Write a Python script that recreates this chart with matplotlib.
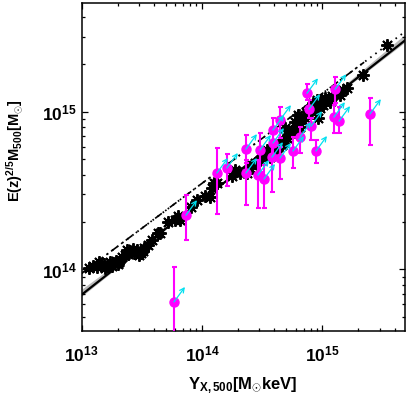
import numpy as np
import matplotlib
matplotlib.use("Agg")
import matplotlib.pyplot as plt
from matplotlib.ticker import LogLocator, FuncFormatter, NullFormatter

plt.rcParams['mathtext.fontset'] = 'custom'
plt.rcParams['mathtext.bf'] = 'Liberation Sans:bold'
plt.rcParams['mathtext.rm'] = 'Liberation Sans'
plt.rcParams['mathtext.it'] = 'Liberation Sans:italic'
plt.rcParams['font.family'] = ['Liberation Sans', 'DejaVu Sans']

# ---- data: simulated clusters (black asterisks) ----
star_yx = [1.15e13, 1.24e13, 1.34e13, 1.45e13, 1.53e13, 1.62e13, 1.72e13, 1.82e13, 1.93e13, 2.04e13,
           2.16e13, 2.29e13, 2.43e13, 2.57e13, 2.72e13, 2.88e13, 3.11e13, 3.30e13, 3.56e13, 3.84e13,
           4.31e13, 4.48e13, 5.22e13, 5.97e13, 6.31e13, 6.56e13, 8.10e13, 9.08e13, 1.06e14, 1.17e14,
           1.21e14, 1.26e14, 1.33e14, 1.78e14, 2.07e14, 2.37e14, 2.51e14, 2.76e14, 3.03e14, 3.22e14,
           3.47e14, 3.67e14, 3.82e14, 4.20e14, 4.62e14, 4.71e14, 5.09e14, 5.39e14, 5.71e14, 6.04e14,
           6.53e14, 6.78e14, 7.18e14, 7.91e14, 8.21e14, 8.37e14, 9.04e14, 9.57e14, 1.01e15, 1.09e15,
           1.16e15, 1.32e15, 1.49e15, 1.60e15, 2.18e15, 3.45e15,
           1.39e13, 1.56e13, 1.79e13, 2.00e13, 2.38e13, 2.67e13, 2.99e13, 3.23e13,
           4.90e14, 5.93e14, 6.28e14, 7.32e14, 8.69e14, 1.05e15, 1.20e15, 1.40e15, 5.19e14, 9.21e14,
           1.88e14, 2.61e14]
star_m = [1.02e14, 1.05e14, 1.04e14, 1.07e14, 1.08e14, 1.05e14, 1.12e14, 1.10e14, 1.13e14, 1.12e14,
          1.20e14, 1.24e14, 1.25e14, 1.29e14, 1.27e14, 1.33e14, 1.27e14, 1.37e14, 1.43e14, 1.54e14,
          1.70e14, 1.70e14, 2.00e14, 2.06e14, 2.18e14, 2.06e14, 2.49e14, 2.76e14, 2.92e14, 2.88e14,
          3.28e14, 3.53e14, 3.53e14, 3.91e14, 4.09e14, 4.09e14, 4.40e14, 4.73e14, 4.94e14, 5.32e14,
          5.72e14, 5.16e14, 5.72e14, 5.89e14, 6.15e14, 6.34e14, 6.81e14, 7.33e14, 7.66e14, 7.43e14,
          8.00e14, 8.86e14, 9.12e14, 1.03e15, 1.03e15, 1.14e15, 1.19e15, 1.05e15, 1.10e15, 1.19e15,
          1.15e15, 1.31e15, 1.37e15, 1.41e15, 1.71e15, 2.65e15,
          1.12e14, 1.02e14, 1.05e14, 1.08e14, 1.33e14, 1.35e14, 1.24e14, 1.31e14,
          7.88e14, 8.61e14, 9.53e14, 9.96e14, 1.09e15, 1.22e15, 1.26e15, 1.28e15, 7.12e14, 9.12e14,
          4.27e14, 4.60e14]

# ---- data: observed clusters (magenta, with error bars) ----
obs_yx = [5.85e13, 7.36e13, 1.33e14, 1.61e14, 2.32e14, 2.32e14, 2.92e14, 3.28e14, 3.03e14, 3.82e14,
          3.89e14, 4.45e14, 5.71e14, 6.53e14, 8.87e14, 4.45e14, 3.89e14, 7.46e14, 7.76e14, 8.07e14,
          1.28e15, 1.25e15, 1.38e15, 2.49e15]
obs_m = [6.22e13, 2.21e14, 4.09e14, 4.40e14, 5.80e14, 4.09e14, 3.97e14, 3.75e14, 5.72e14, 5.16e14,
         6.34e14, 5.09e14, 5.64e14, 6.92e14, 5.64e14, 8.86e14, 7.66e14, 1.31e15, 1.04e15, 8.11e14,
         1.39e15, 9.25e14, 8.73e14, 9.67e14]
obs_m_hi = [1.04e14, 2.97e14, 5.89e14, 5.39e14, 7.12e14, 4.94e14, 4.94e14, 4.60e14, 7.33e14, 6.15e14,
            7.66e14, 5.97e14, 6.92e14, 8.00e14, 6.62e14, 1.07e15, 9.12e14, 1.50e15, 1.19e15, 9.12e14,
            1.66e15, 1.10e15, 1.07e15, 1.22e15]
obs_m_lo = [3.0e13, 1.54e14, 2.25e14, 3.38e14, 4.73e14, 2.56e14, 2.45e14, 2.45e14, 4.15e14, 3.10e14,
            5.16e14, 3.75e14, 4.40e14, 5.47e14, 4.73e14, 6.81e14, 6.62e14, 1.19e15, 9.12e14, 6.62e14,
            1.14e15, 7.33e14, 7.33e14, 6.15e14]
arrow_fx = 1.234
arrow_fy = 1.245

# ---- relations (log-log lines) ----
fit_norm, fit_slope = 13.84, 0.60     # solid line: log M at Y=1e13, slope
alt_norm, alt_slope = 13.976, 0.57    # dash-dot / dotted line
x_range = [1e13, 4.85e15]
dashdot_end = 2.24e15

fig = plt.figure(figsize=(4.07, 4.07), dpi=100)
ax = fig.add_axes([81.7/407, 1-331/407, (404.7-81.7)/407, (331-3)/407])
ax.set_xscale('log')
ax.set_yscale('log')
ax.set_xlim(x_range)
ax.set_ylim(4.07e13, 4.9e15)

lx = np.linspace(np.log10(x_range[0]), np.log10(x_range[1]), 200)
ly = fit_norm + fit_slope*(lx - 13)
w = 0.008 + 0.016*(lx - 14.3)**2
ax.fill_between(10**lx, 10**(ly - 0.3*w), 10**(ly + w), color='#8c8c8c', alpha=0.6, lw=0, zorder=1)
ax.plot(10**lx, 10**ly, color='black', lw=1.6, zorder=2)

ly2 = alt_norm + alt_slope*(lx - 13)
ax.plot(10**lx, 10**ly2, color='black', lw=1.3, linestyle=(0, (0.9, 2.6)), zorder=2)
m = 10**lx <= dashdot_end
ax.plot(10**lx[m], 10**ly2[m], color='black', lw=1.2, linestyle=(0, (5, 2.5, 1, 2.5)), zorder=2)

ax.plot(star_yx, star_m, linestyle='none', marker=(8, 2, 0), ms=9, mew=1.4, color='black', zorder=3)

ax.errorbar(obs_yx, obs_m,
            yerr=[np.array(obs_m) - np.array(obs_m_lo), np.array(obs_m_hi) - np.array(obs_m)],
            fmt='o', color='#ff00ff', ms=6.5, elinewidth=1.5, capsize=1.8, capthick=1.5, zorder=4)
for xv, yv in zip(obs_yx, obs_m):
    ax.annotate('', xy=(xv*arrow_fx, yv*arrow_fy), xytext=(xv, yv),
                arrowprops=dict(arrowstyle='->', color='#00e0f0', lw=0.9,
                                shrinkA=0, shrinkB=0, mutation_scale=8), zorder=5)

for s in ax.spines.values():
    s.set_linewidth(1.1)
ax.tick_params(which='both', direction='in', top=True, right=True, width=0.9)
ax.tick_params(which='major', length=4.5)
ax.tick_params(which='minor', length=2.2)
ax.tick_params(axis='x', which='major', pad=10)
ax.tick_params(axis='y', which='major', pad=3.5)
ax.xaxis.set_major_locator(LogLocator(base=10, numticks=10))
ax.yaxis.set_major_locator(LogLocator(base=10, numticks=10))
ax.xaxis.set_minor_locator(LogLocator(base=10, subs=np.arange(2, 10), numticks=20))
ax.yaxis.set_minor_locator(LogLocator(base=10, subs=np.arange(2, 10), numticks=20))
ax.xaxis.set_minor_formatter(NullFormatter())
ax.yaxis.set_minor_formatter(NullFormatter())
fmt = FuncFormatter(lambda v, p: r'$\mathbf{10^{%d}}$' % int(round(np.log10(v))))
ax.xaxis.set_major_formatter(fmt)
ax.yaxis.set_major_formatter(fmt)
for lab in ax.get_xticklabels() + ax.get_yticklabels():
    lab.set_fontsize(12.5)

fig.text(243/407, 1-386/407, r'$\mathbf{Y_{X,500}[M_{\odot}keV]}$', ha='center', va='center', fontsize=12)
fig.text(15/407, 1-151/407, r'$\mathbf{E(z)^{2/5}M_{500}[M_{\odot}]}$', ha='center', va='center',
         rotation=90, fontsize=10.5)

fig.savefig('out.png', dpi=100)
